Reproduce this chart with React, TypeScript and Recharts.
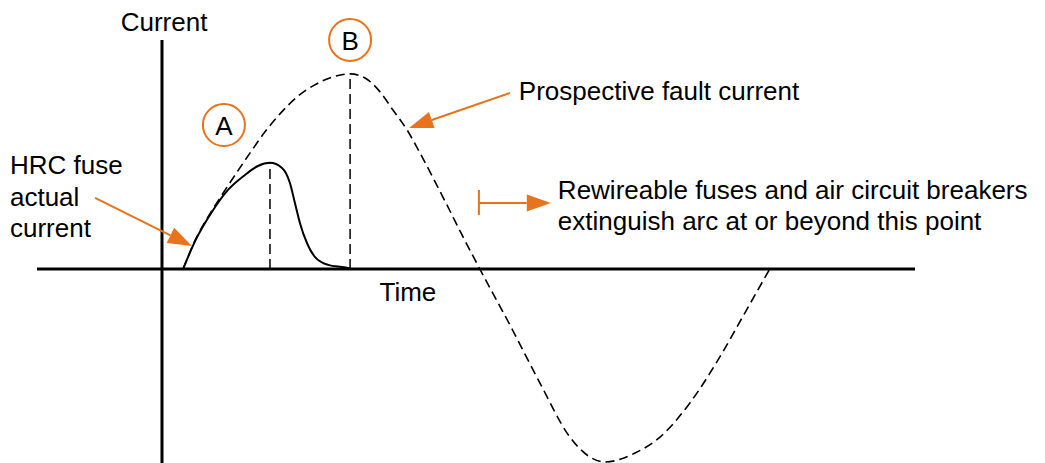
import React from "react";
import {
  ComposedChart,
  Line,
  XAxis,
  YAxis,
  ReferenceLine,
  ReferenceDot,
} from "recharts";

// time in ms (y axis at t = 0), current in per-unit of the prospective peak
const faultTime = [0.72, 1.12, 1.57, 2.04, 2.56, 3.07, 3.51, 4.02, 4.6, 5.21, 5.83, 6.41, 6.92, 7.43, 7.87, 8.35, 8.79, 9.71, 10.26, 10.83, 11.89, 12.88, 13.9, 14.58, 15.09, 16.12, 16.97, 17.99, 19.01, 19.86, 20.71];
const faultCurrent = [0, 0.144, 0.267, 0.379, 0.497, 0.61, 0.703, 0.795, 0.882, 0.944, 0.985, 1.0, 0.979, 0.908, 0.815, 0.713, 0.595, 0.328, 0.164, 0, -0.297, -0.585, -0.862, -0.964, -0.99, -0.944, -0.862, -0.687, -0.451, -0.226, 0];

const fuseTime = [0.72, 1.12, 1.7, 2.25, 2.83, 3.27, 3.68, 4.09, 4.36, 4.53, 4.7, 4.94, 5.21, 5.66, 6.34, 6.41];
const fuseCurrent = [0, 0.14, 0.292, 0.405, 0.482, 0.528, 0.544, 0.518, 0.441, 0.338, 0.236, 0.133, 0.062, 0.021, 0.005, 0];

const fuseCutoff = { t: 3.68, i: 0.544 };
const faultPeak = { t: 6.41, i: 1.0 };

const circles = [
  { id: "A", t: 2.11, i: 0.738 },
  { id: "B", t: 6.41, i: 1.174 },
];

const labels = [
  { text: "Current", t: 0.07, i: 1.267, anchor: "middle" },
  { text: "Time", t: 8.38, i: -0.118, anchor: "middle" },
  { text: "HRC fuse", t: -5.18, i: 0.533, anchor: "start" },
  { text: "actual", t: -5.18, i: 0.369, anchor: "start" },
  { text: "current", t: -5.18, i: 0.21, anchor: "start" },
  { text: "Prospective fault current", t: 12.16, i: 0.913, anchor: "start" },
  { text: "Rewireable fuses and air circuit breakers", t: 13.49, i: 0.405, anchor: "start" },
  { text: "extinguish arc at or beyond this point", t: 13.49, i: 0.246, anchor: "start" },
];

const arrows = [
  { from: { t: -2.28, i: 0.364 }, to: { t: 1.02, i: 0.118 } },
  { from: { t: 11.86, i: 0.903 }, to: { t: 8.42, i: 0.723 } },
  { from: { t: 10.8, i: 0.338 }, to: { t: 13.25, i: 0.338 } },
];

const bracket = { t: 10.8, top: 0.405, bottom: 0.277 };

const faultData = faultTime.map((t, k) => ({ t, i: faultCurrent[k] }));
const fuseData = fuseTime.map((t, k) => ({ t, i: fuseCurrent[k] }));

const ORANGE = "#E8731C";
const FONT = "'Liberation Sans', Arial, Helvetica, sans-serif";

const ArrowShape = (props: any) => {
  const { x1, y1, x2, y2 } = props;
  const len = 24;
  const half = 8.5;
  const dx = x2 - x1;
  const dy = y2 - y1;
  const d = Math.sqrt(dx * dx + dy * dy) || 1;
  const ux = dx / d;
  const uy = dy / d;
  const bx = x2 - ux * len;
  const by = y2 - uy * len;
  const pts = `${x2},${y2} ${bx - uy * half},${by + ux * half} ${bx + uy * half},${by - ux * half}`;
  return (
    <g>
      <line x1={x1} y1={y1} x2={bx} y2={by} stroke={ORANGE} strokeWidth={2} />
      <polygon points={pts} fill={ORANGE} />
    </g>
  );
};

export default function App() {
  return (
    <div style={{ position: "absolute", left: 0, top: 0, width: 1045, height: 463, background: "#fff" }}>
      <ComposedChart width={1045} height={463} margin={{ top: 0, right: 0, bottom: 0, left: 0 }}>
        <XAxis type="number" dataKey="t" domain={[-5.52, 30.09]} allowDataOverflow hide />
        <YAxis type="number" dataKey="i" domain={[-0.995, 1.379]} allowDataOverflow hide />

        {/* axes */}
        <ReferenceLine segment={[{ x: 0, y: 1.174 }, { x: 0, y: -0.995 }]} stroke="#000" strokeWidth={3} />
        <ReferenceLine segment={[{ x: -4.26, y: 0 }, { x: 25.66, y: 0 }]} stroke="#000" strokeWidth={3} />

        {/* cut-off and peak markers */}
        <ReferenceLine segment={[{ x: fuseCutoff.t, y: 0 }, { x: fuseCutoff.t, y: fuseCutoff.i }]} stroke="#000" strokeWidth={1.5} strokeDasharray="10 5" />
        <ReferenceLine segment={[{ x: faultPeak.t, y: 0 }, { x: faultPeak.t, y: faultPeak.i }]} stroke="#000" strokeWidth={1.5} strokeDasharray="10 5" />

        <Line data={faultData} dataKey="i" type="monotone" stroke="#000" strokeWidth={1.6} strokeDasharray="9 5" dot={false} activeDot={false} isAnimationActive={false} />
        <Line data={fuseData} dataKey="i" type="monotone" stroke="#000" strokeWidth={2} dot={false} activeDot={false} isAnimationActive={false} />

        {/* orange annotations */}
        {arrows.map((a, k) => (
          <ReferenceLine key={`arr${k}`} segment={[{ x: a.from.t, y: a.from.i }, { x: a.to.t, y: a.to.i }]} shape={ArrowShape} />
        ))}
        <ReferenceLine segment={[{ x: bracket.t, y: bracket.top }, { x: bracket.t, y: bracket.bottom }]} stroke={ORANGE} strokeWidth={2} />

        {circles.map((c) => (
          <ReferenceDot
            key={c.id}
            x={c.t}
            y={c.i}
            r={22}
            shape={(p: any) => (
              <g>
                <circle cx={p.cx} cy={p.cy} r={21} fill="#fff" stroke={ORANGE} strokeWidth={2} />
                <text x={p.cx} y={p.cy + 1} textAnchor="middle" dominantBaseline="central" fontFamily={FONT} fontSize={26} fill="#000">
                  {c.id}
                </text>
              </g>
            )}
          />
        ))}

        {labels.map((l) => (
          <ReferenceDot
            key={l.text}
            x={l.t}
            y={l.i}
            r={0}
            shape={(p: any) => (
              <text x={p.cx} y={p.cy} textAnchor={l.anchor} dominantBaseline="central" fontFamily={FONT} fontSize={26} fill="#000">
                {l.text}
              </text>
            )}
          />
        ))}
      </ComposedChart>
    </div>
  );
}
